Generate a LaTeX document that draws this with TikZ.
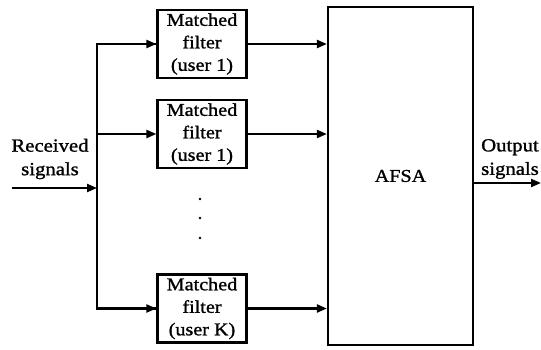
\documentclass[tikz,border=0pt]{standalone}
\usepackage{fontspec}
\setmainfont{Liberation Serif}
\newfontfamily\figfont[FakeStretch=1.12,FakeBold=1.2]{Liberation Serif}
\usetikzlibrary{arrows.meta}
\begin{document}
\begin{tikzpicture}[x=1pt,y=-1pt,
  line width=2.2pt,
  arr/.style={-{Triangle[length=10pt,width=8pt]}},
  filt/.style={draw,minimum width=89pt,minimum height=68pt,inner sep=0pt,align=center,
    font=\figfont\fontsize{18}{22.5}\selectfont},
  lbl/.style={align=center,font=\figfont\fontsize{18.5}{23.5}\selectfont,inner sep=0pt}]
\useasboundingbox (0,0) rectangle (541,350);
\node[filt] (f1) at (202,44) {Matched\\filter\\(user 1)};
\node[filt] (f2) at (202,134) {Matched\\filter\\(user 1)};
\node[filt] (f3) at (202,308.5) {Matched\\filter\\(user K)};
\node[draw,minimum width=145pt,minimum height=338pt,inner sep=0pt,font=\figfont\fontsize{18}{22}\selectfont] (afsa) at (400.5,176) {AFSA};
\coordinate (in) at (12,188);
\coordinate (br) at (97,188);
\coordinate (out) at (541,183);
\node[lbl] (rl) at (50,159) {Received\\signals};
\node[lbl] (ol) at (510,159) {Output\\signals};
\draw[arr] (in) -- (br);
\draw (br) |- (f1.west);
\draw (br) |- (f3.west);
\draw[arr] (br |- f1.west) -- (f1.west);
\draw[arr] (br |- f2.west) -- (f2.west);
\draw[arr] (br |- f3.west) -- (f3.west);
\draw[arr] (f1.east) -- (afsa.west |- f1.east);
\draw[arr] (f2.east) -- (afsa.west |- f2.east);
\draw[arr] (f3.east) -- (afsa.west |- f3.east);
\draw[arr] (afsa.east |- out) -- (out);
\foreach \yy [count=\i] in {199,218,238}
  \fill (200,\yy) circle (1.4pt) coordinate (d\i);
\end{tikzpicture}
\end{document}
